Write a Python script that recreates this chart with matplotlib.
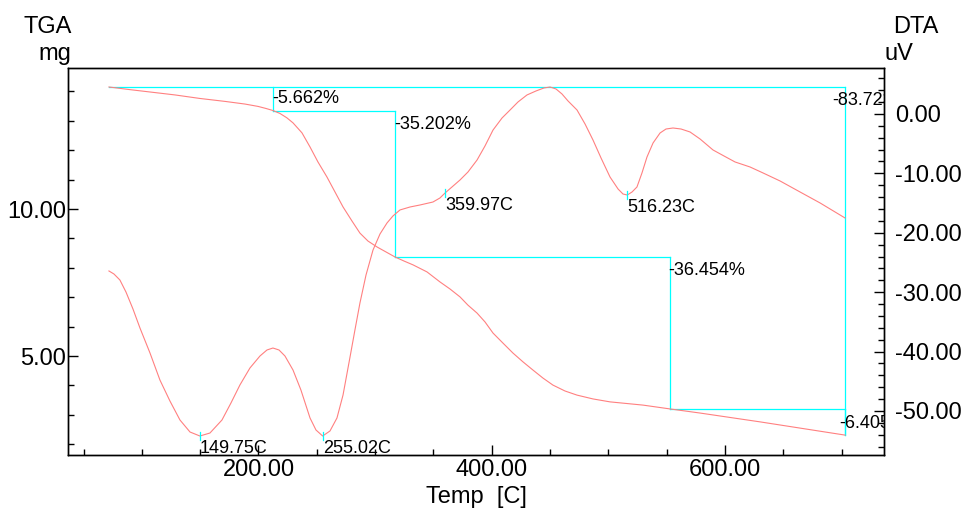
import matplotlib
matplotlib.use('Agg')
import matplotlib.pyplot as plt
from matplotlib.ticker import MultipleLocator, FormatStrFormatter

plt.rcParams['font.family'] = ['Liberation Sans', 'DejaVu Sans']
plt.rcParams['axes.unicode_minus'] = False

# ---------------- data ----------------
tga_temp = [71.8, 89.8, 107.0, 128.4, 149.8, 171.3, 188.4, 199.6, 206.4, 212.4,
            218.4, 224.4, 229.6, 237.3, 244.2, 251.0, 258.7, 265.6, 272.5, 280.2,
            287.0, 293.9, 301.6, 309.3, 317.0, 324.8, 332.5, 344.5, 355.6, 364.2,
            372.8, 379.6, 387.4, 394.2, 401.1, 409.6, 418.2, 426.8, 435.4, 443.9,
            452.5, 462.8, 473.1, 486.8, 501.4, 529.7, 552.8, 578.6, 630.0, 702.9]
tga_mass = [14.15, 14.06, 13.98, 13.88, 13.76, 13.66, 13.57, 13.49, 13.42, 13.35,
            13.25, 13.10, 12.93, 12.59, 12.11, 11.60, 11.09, 10.58, 10.07, 9.59,
            9.18, 8.91, 8.71, 8.54, 8.37, 8.23, 8.10, 7.86, 7.52, 7.28,
            7.01, 6.73, 6.46, 6.16, 5.78, 5.44, 5.10, 4.80, 4.52, 4.25,
            4.01, 3.81, 3.67, 3.54, 3.44, 3.33, 3.20, 3.06, 2.76, 2.31]

dta_temp = [71.8, 76.1, 81.2, 86.4, 92.4, 98.4, 107.0, 115.5, 124.1, 132.7,
            141.3, 149.75, 158.4, 168.7, 176.4, 184.1, 192.7, 201.3, 207.3, 212.4,
            217.6, 222.7, 229.6, 236.4, 244.2, 249.3, 255.02, 261.3, 267.3, 272.5,
            278.5, 282.7, 287.0, 292.2, 298.2, 304.2, 310.2, 315.3, 321.3, 329.9,
            338.5, 349.6, 355.6, 359.97, 365.9, 372.8, 379.6, 387.4, 394.2, 401.1,
            408.8, 415.7, 422.5, 430.2, 437.9, 444.8, 450.0, 455.1, 460.2, 465.4,
            473.1, 480.0, 486.8, 493.7, 501.4, 508.3, 512.5, 516.23, 520.3, 524.5,
            528.8, 533.1, 538.3, 544.3, 549.4, 555.4, 562.3, 570.0, 578.6, 589.7,
            599.1, 608.6, 621.4, 632.6, 647.2, 664.3, 681.5, 702.9]
dta_uv = [-26.43, -26.94, -27.95, -29.97, -32.83, -36.03, -40.24, -44.78, -48.32, -51.52,
          -53.54, -54.21, -53.71, -51.52, -48.66, -45.62, -42.76, -40.74, -39.73, -39.40,
          -39.73, -40.74, -43.10, -46.47, -51.18, -53.20, -54.21, -53.37, -51.18, -47.31,
          -40.91, -36.37, -31.82, -27.11, -22.90, -20.20, -18.35, -17.17, -16.16, -15.66,
          -15.32, -14.82, -14.14, -13.30, -12.29, -11.11, -9.77, -7.75, -5.39, -2.70,
          -0.68, 0.67, 2.02, 3.20, 3.87, 4.38, 4.54, 4.21, 3.37, 2.19,
          0.67, -1.69, -4.38, -7.41, -10.61, -12.63, -13.47, -13.64, -13.13, -12.29,
          -9.93, -7.24, -4.88, -3.20, -2.53, -2.36, -2.53, -3.03, -4.21, -6.06,
          -7.07, -8.08, -8.92, -9.93, -11.28, -13.13, -14.98, -17.51]

peak_temp = [149.75, 255.02, 359.97, 516.23]
peak_uv = [-54.21, -54.21, -13.30, -13.64]
peak_labels = ['149.75C', '255.02C', '359.97C', '516.23C']

step_temp = [71.8, 212.4, 317.0, 552.8, 702.9]
step_pct = [5.662, 35.202, 36.454, 6.405]
step_labels = ['-5.662%', '-35.202%', '-36.454%', '-6.405%']
total_label = '-83.723%'
mass0 = 14.15

CURVE = '#ff8080'
CYAN = '#00ffff'

# ---------------- figure ----------------
fig = plt.figure(figsize=(9.66, 5.08), dpi=100)
ax = fig.add_axes([68 / 966, 53 / 508, 816 / 966, 387 / 508])
ax.set_xlim(36.7, 736.3)
ax.set_ylim(1.633, 14.796)

ax.plot(tga_temp, tga_mass, color=CURVE, lw=0.8, zorder=3)

# step boxes
levels = [mass0]
for p in step_pct:
    levels.append(levels[-1] - p / 100.0 * mass0)
lkw = dict(color=CYAN, lw=0.9, zorder=2)
ax.plot([step_temp[0], step_temp[-1]], [mass0, mass0], **lkw)
for i in range(1, len(step_temp)):
    ax.plot([step_temp[i], step_temp[i]], [levels[i - 1], levels[i]], **lkw)
    if i < len(step_temp) - 1:
        ax.plot([step_temp[i], step_temp[i + 1]], [levels[i], levels[i]], **lkw)
ax.plot([step_temp[-1], step_temp[-1]], [mass0, levels[-1]], **lkw)

offsets = [(-1, -3), (-1, -5), (-2, -5), (-6, -6)]
for i, lab in enumerate(step_labels):
    ax.annotate(lab, (step_temp[i + 1], levels[i]), xytext=offsets[i],
                textcoords='offset pixels', ha='left', va='top',
                fontsize=13, color='black', clip_on=True, zorder=5)
ax.annotate(total_label, (step_temp[-1], mass0), xytext=(-13, -5),
            textcoords='offset pixels', ha='left', va='top',
            fontsize=13, color='black', clip_on=True, zorder=5)

ax2 = ax.twinx()
ax2.set_ylim(-57.41, 7.74)
ax2.plot(dta_temp, dta_uv, color=CURVE, lw=0.8, zorder=3)
for t, v, lab in zip(peak_temp, peak_uv, peak_labels):
    ax2.plot([t, t], [v - 0.7, v + 0.7], color=CYAN, lw=0.9, zorder=4)
    ax2.annotate(lab, (t, v - 0.7), xytext=(0, 0), textcoords='offset pixels',
                 ha='left', va='top', fontsize=13, color='black', zorder=5)

# ticks
ax.xaxis.set_major_locator(MultipleLocator(200))
ax.xaxis.set_minor_locator(MultipleLocator(50))
ax.yaxis.set_major_locator(MultipleLocator(5))
ax.yaxis.set_minor_locator(MultipleLocator(1))
ax2.yaxis.set_major_locator(MultipleLocator(10))
ax2.yaxis.set_minor_locator(MultipleLocator(2))
fmt = FormatStrFormatter('%.2f')
ax.xaxis.set_major_formatter(fmt)
ax.yaxis.set_major_formatter(fmt)
ax2.yaxis.set_major_formatter(fmt)

ax.tick_params(axis='x', which='both', direction='in', labelsize=17, pad=3)
ax.tick_params(axis='y', which='both', direction='in', labelsize=17, pad=1.5)
ax2.tick_params(axis='y', which='both', direction='in', labelsize=17, pad=8)
for a in (ax, ax2):
    a.tick_params(which='major', length=7, width=1)
    a.tick_params(which='minor', length=4, width=1)
    for s in a.spines.values():
        s.set_linewidth(1.0)

# titles / units
fig.text(72 / 966, 1 - 33 / 508, 'TGA', ha='right', va='baseline', fontsize=17)
fig.text(71 / 966, 1 - 60 / 508, 'mg', ha='right', va='baseline', fontsize=17)
fig.text(893 / 966, 1 - 33 / 508, 'DTA', ha='left', va='baseline', fontsize=17)
fig.text(884 / 966, 1 - 60 / 508, 'uV', ha='left', va='baseline', fontsize=17)
fig.text(476 / 966, 1 - 503 / 508, 'Temp  [C]', ha='center', va='baseline', fontsize=17)

fig.savefig('out.png', dpi=100)
